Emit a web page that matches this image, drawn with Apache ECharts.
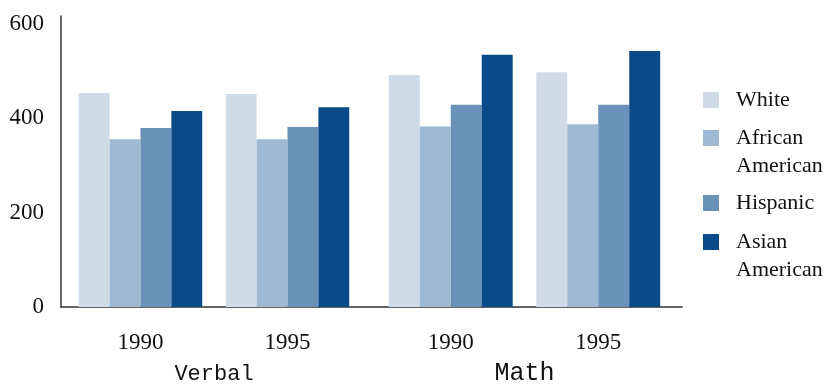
<!DOCTYPE html>
<html>
<head>
<meta charset="utf-8">
<script src="https://cdn.jsdelivr.net/npm/echarts@6/dist/echarts.min.js"></script>
<style>
  html, body { margin: 0; padding: 0; background: #fff; }
  #chart { width: 826px; height: 384px; }
</style>
</head>
<body>
<div id="chart"></div>
<script>
// Average SAT scores by group, test section and year
const sections = ['Verbal', 'Math'];
const years = ['1990', '1995'];
const groupNames = ['White', 'African American', 'Hispanic', 'Asian American'];
const colors = ['#cfdbe7', '#9eb9d3', '#6a92b8', '#0b4a88'];

const verbalScores = {
  'White': [453, 451],
  'African American': [355, 355],
  'Hispanic': [379, 381],
  'Asian American': [415, 423]
};
const mathScores = {
  'White': [491, 497],
  'African American': [382, 387],
  'Hispanic': [428, 428],
  'Asian American': [534, 542]
};
const sectionScores = [verbalScores, mathScores];

const yTicks = [0, 200, 400, 600];
const yMax = 616;

const serif = 'Liberation Serif';
const mono = 'Liberation Mono';
const TOP = 16, BOTTOM = 77;

// Panel boxes: [left, width] for the Verbal and Math bar groups
const panels = [[67, 294], [377, 295]];
// Legend icon centres (px) for each entry
const legendCenters = [100, 138, 203, 242];
const LINE_H = 28;

const grids = [{ left: 61, right: 144, top: TOP, bottom: BOTTOM, outerBoundsMode: 'none', containLabel: false }];
panels.forEach(p => grids.push({
  left: p[0], width: p[1], top: TOP, bottom: BOTTOM, outerBoundsMode: 'none', containLabel: false
}));

const xAxes = [{
  gridIndex: 0, type: 'value', min: 0, max: 1,
  axisLine: { show: true, lineStyle: { color: '#333', width: 1.6 } },
  axisTick: { show: false }, axisLabel: { show: false }, splitLine: { show: false }
}];
const yAxes = [{
  gridIndex: 0, type: 'value', min: 0, max: yMax, interval: 200,
  axisLine: { show: true, lineStyle: { color: '#444', width: 1.6 } },
  axisTick: { show: false }, splitLine: { show: false },
  axisLabel: {
    margin: 17, fontFamily: serif, fontSize: 23, color: '#111',
    showMaxLabel: false,
    formatter: v => (yTicks.indexOf(v) >= 0 ? String(v) : '')
  }
}];

sections.forEach((sec, i) => {
  xAxes.push({
    gridIndex: i + 1, type: 'category', data: years,
    name: sec, nameLocation: 'middle', nameGap: i === 0 ? 56 : 54,
    nameTextStyle: { fontFamily: mono, fontSize: i === 0 ? 22 : 25, color: '#111' },
    axisLine: { show: false }, axisTick: { show: false },
    axisLabel: { margin: 24, fontFamily: serif, fontSize: 23, color: '#111' }
  });
  yAxes.push({ gridIndex: i + 1, type: 'value', min: 0, max: yMax, show: false });
});

const series = [];
sections.forEach((sec, i) => {
  groupNames.forEach((g, k) => {
    series.push({
      name: g, type: 'bar',
      xAxisIndex: i + 1, yAxisIndex: i + 1,
      data: sectionScores[i][g],
      barGap: '0%', barCategoryGap: '16%',
      itemStyle: { color: colors[k] },
      emphasis: { disabled: true },
      animation: false
    });
  });
});

// One legend per entry; two-word names wrap below the icon's line
const legends = groupNames.map((g, k) => {
  const twoLine = g.indexOf(' ') >= 0;
  const boxH = twoLine ? LINE_H * 3 : LINE_H;
  return {
    data: [g], orient: 'vertical', left: 703, top: legendCenters[k] - boxH / 2,
    padding: 0, itemWidth: 16, itemHeight: 16, icon: 'rect',
    formatter: n => (n.indexOf(' ') >= 0 ? '\u00a0\n' + n.replace(' ', '\n') : n),
    textStyle: {
      fontFamily: serif, fontSize: 22, color: '#111', lineHeight: LINE_H,
      padding: [0, 0, 0, 12]
    }
  };
});

const chart = echarts.init(document.getElementById('chart'));
chart.setOption({
  animation: false,
  backgroundColor: '#fff',
  grid: grids,
  xAxis: xAxes,
  yAxis: yAxes,
  legend: legends,
  series: series
});
</script>
</body>
</html>
